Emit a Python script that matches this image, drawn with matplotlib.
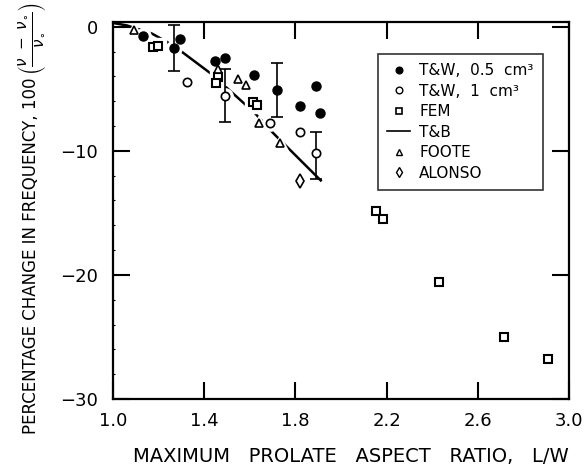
import numpy as np
import matplotlib.pyplot as plt
from matplotlib.lines import Line2D

# T&W, 0.5 cm3 (filled circles)
tw05_x = [1.133, 1.294, 1.267, 1.447, 1.491, 1.618, 1.721, 1.892, 1.820, 1.906]
tw05_y = [-0.75, -1.02, -1.72, -2.78, -2.49, -3.88, -5.11, -4.76, -6.37, -6.98]
# error bars on T&W 0.5 cm3 (x, y, lower, upper)
tw05_err_x = [1.267, 1.721]
tw05_err_y = [-1.72, -5.11]
tw05_err_lo = [1.86, 2.14]
tw05_err_hi = [1.88, 2.19]

# T&W, 1 cm3 (open circles)
tw1_x = [1.326, 1.491, 1.690, 1.822, 1.892]
tw1_y = [-4.47, -5.56, -7.75, -8.48, -10.14]
tw1_err_x = [1.491, 1.892]
tw1_err_y = [-5.56, -10.14]
tw1_err_lo = [2.09, 2.13]
tw1_err_hi = [2.19, 1.64]

# FEM (squares)
fem_x = [1.174, 1.199, 1.462, 1.452, 1.615, 1.630, 2.152, 2.183, 2.430, 2.714, 2.907]
fem_y = [-1.64, -1.58, -4.09, -4.57, -6.05, -6.31, -14.89, -15.53, -20.56, -25.0, -26.76]

# T&B theory curve
tb_x = [1.0, 1.061, 1.171, 1.237, 1.303, 1.433, 1.623, 1.703, 1.915]
tb_y = [0.30, 0.10, -0.56, -1.23, -2.04, -3.83, -6.98, -8.58, -12.46]

# FOOTE (triangles)
foote_x = [1.092, 1.462, 1.550, 1.583, 1.640, 1.732]
foote_y = [-0.24, -3.45, -4.25, -4.71, -7.78, -9.38]

# ALONSO (diamond)
alonso_x = [1.820]
alonso_y = [-12.41]

x_ticks = [1.0, 1.4, 1.8, 2.2, 2.6, 3.0]
y_ticks = [0, -10, -20, -30]

plt.rcParams['font.family'] = ['DejaVu Sans']

fig = plt.figure(figsize=(5.84, 4.65), dpi=100)
ax = fig.add_axes([0.1935, 0.1419, 0.7808, 0.8114])

ms = 6
mew = 1.2

# theory line (solid, broken up by white halos round the markers)
ax.plot(tb_x, tb_y, color='black', lw=1.8, zorder=2, solid_capstyle='butt')

# white halos to break the line near markers
halo = dict(ls='none', color='white', mec='white', ms=ms + 5, zorder=2.5)
ax.plot(tw05_x, tw05_y, marker='o', **halo)
ax.plot(tw1_x, tw1_y, marker='o', **halo)
ax.plot(fem_x, fem_y, marker='s', **halo)
ax.plot(foote_x, foote_y, marker='^', **halo)
ax.plot(alonso_x, alonso_y, marker='d', **halo)

# error bars
ax.errorbar(tw05_err_x, tw05_err_y, yerr=[tw05_err_lo, tw05_err_hi], fmt='none',
            ecolor='black', elinewidth=1.2, capsize=4, capthick=1.2, zorder=3)
ax.errorbar(tw1_err_x, tw1_err_y, yerr=[tw1_err_lo, tw1_err_hi], fmt='none',
            ecolor='black', elinewidth=1.2, capsize=4, capthick=1.2, zorder=3)

# data markers
ax.plot(tw05_x, tw05_y, ls='none', marker='o', ms=ms + 0.5, color='black', zorder=4)
ax.plot(tw1_x, tw1_y, ls='none', marker='o', ms=ms, mfc='white', mec='black', mew=mew, zorder=4)
ax.plot(fem_x, fem_y, ls='none', marker='s', ms=ms, mfc='white', mec='black', mew=mew + 0.3, zorder=4)
ax.plot(foote_x, foote_y, ls='none', marker='^', ms=ms, mfc='white', mec='black', mew=mew, zorder=4)
ax.plot(alonso_x, alonso_y, ls='none', marker='d', ms=ms + 1, mfc='white', mec='black', mew=mew, zorder=4)

ax.set_xlim(1.0, 3.0)
ax.set_ylim(-30, 0.4)
ax.set_xticks(x_ticks)
ax.set_xticklabels([f'{t:.1f}' for t in x_ticks])
ax.set_yticks(y_ticks)
ax.set_yticks(np.arange(-30, 1, 2), minor=True)

ax.tick_params(which='major', direction='in', length=12, width=1.5,
               top=True, right=True, labelsize=13)
ax.tick_params(axis='x', which='major', pad=9)
ax.tick_params(axis='y', which='major', pad=11)
ax.tick_params(axis='y', which='minor', direction='in', length=1.5, width=0.8, left=True, right=False)
ax.tick_params(axis='x', which='minor', bottom=False, top=False)
for s in ax.spines.values():
    s.set_linewidth(1.6)

ax.set_xlabel('MAXIMUM   PROLATE   ASPECT   RATIO,   L/W', fontsize=14)
ax.xaxis.set_label_coords(0.521, -0.127)

# y label: plain words plus a bracketed fraction above them
fig.text(31 / 584, 1 - 434 / 465, 'PERCENTAGE CHANGE IN FREQUENCY, 100',
         rotation=90, ha='center', va='bottom', fontsize=12)
fig.text(32.5 / 584, 1 - 2 / 465, r'$\left(\dfrac{\nu\ -\ \nu_{\circ}}{\nu_{\circ}}\right)$',
         rotation=90, ha='center', va='top', fontsize=11)

handles = [
    Line2D([], [], ls='none', marker='o', ms=4.8, color='black'),
    Line2D([], [], ls='none', marker='o', ms=4.8, mfc='white', mec='black', mew=1),
    Line2D([], [], ls='none', marker='s', ms=4.8, mfc='white', mec='black', mew=1.2),
    Line2D([], [], color='black', lw=1.2),
    Line2D([], [], ls='none', marker='^', ms=4.8, mfc='white', mec='black', mew=1),
    Line2D([], [], ls='none', marker='d', ms=5.2, mfc='white', mec='black', mew=1),
]
labels = ['T&W,  0.5  cm³', 'T&W,  1  cm³', 'FEM', 'T&B', 'FOOTE', 'ALONSO']
leg = ax.legend(handles, labels, loc='upper left', bbox_to_anchor=(0.581, 0.914),
                fontsize=11, frameon=True, fancybox=False, edgecolor='black',
                handlelength=1.5, handletextpad=0.6, labelspacing=0.36,
                borderpad=0.6, borderaxespad=0)
leg.get_frame().set_linewidth(1.2)

fig.savefig('out.png', dpi=100)
